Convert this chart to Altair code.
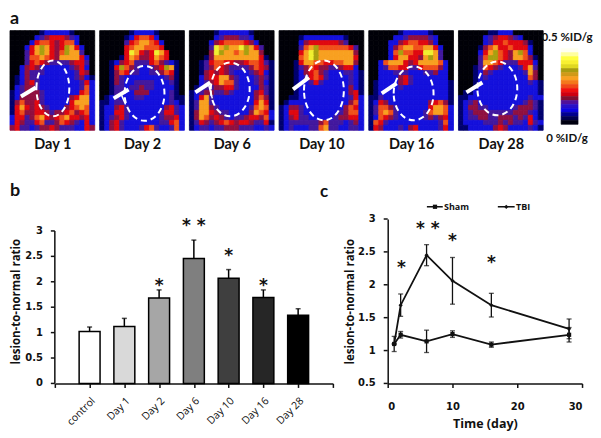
import altair as alt
import pandas as pd

# ---------- panel a: activity maps, one digit per cell (level index) ----------
day1 = ["00000012222210000","00000234555432000","00002566545662000","00025787545875200","00035787546877300",
        "00036676547777520","00035654333345530","00245432222234520","00243332222223540","01243322222223421",
        "01245322222222352","02344322222222362","12344432222222562","12444432222245772","14644532222257772",
        "15754543222456762","15644554344564562","25534675456755452","25433563346543252","45332344543332254"]
day2 = ["00000012222100000","00000125665200000","00000356776520000","00000567766650000","00000597545975000",
        "00001576445765000","00124563335643210","00158643223458710","00146533223346510","00143222222223410",
        "00143223333222310","00133233433222210","00133224442222310","01232223322222311","11233222222222321",
        "12245322222224532","12255322222235532","12345322222234452","12453222222233562","12453222356322362"]
day6 = ["00000122222210000","00000234443320000","00002456666542000","00003978779875300","00004987767877400",
        "00014777777777510","00135665544566531","00134654333346541","00145454322234521","00245577432223431",
        "00234576632223421","01233445532222431","12344334322224531","12573222222224641","13773222222225751",
        "13774322222236761","14775433222247652","14764543233455462","13543456545543351","12332334443332232"]
day10 = ["00000000000000000","00001222222221000","00002455555543000","00003678666666530","00005798777777740",
         "00006798777777750","00015776655667740","00013465443345520","00012456432223321","00012356532222321",
         "00012235322222321","00012222222222421","00012222222222451","00112222222222352","01222222222222462",
         "12443222222224652","12553222222234662","12453322222344552","12333333463332342","12322233673322332"]
day16 = ["00000012222210000","00000223444432000","00002245665542000","00002467766775200","00002686655997300",
         "00002577554787300","00267775457777620","00236655335666420","00222333222334220","00222245322222220",
         "01222245322222221","01222232222222221","01222222222222221","11322222222222221","12542222222245641",
         "13664322222257762","13676322222367762","12654322222343452","16532222222222362","15422232452222352"]
day28 = ["00000011222000000","00000234554320000","00000235565554100","00001467556555200","00002578654786200",
         "00003688654776410","00003776533355520","00013654322235730","00012432222223740","00012322222222640",
         "00012222222222321","00012222222222221","01122222222222221","11222222222222322","12342222222223431",
         "12443322222344431","12344433333444321","12334433444343521","12222333434332532","11222224542222321"]
panel_rows = [day1, day2, day6, day10, day16, day28]
panel_names = ["Day 1", "Day 2", "Day 6", "Day 10", "Day 16", "Day 28"]
levels = list("0123456789")
level_colors = ["#000008", "#00006e", "#1410dc", "#42189e", "#901040",
                "#e00810", "#f0501a", "#f8a020", "#a8a010", "#f0f030"]
ring_cx = [43, 45, 41, 45, 45, 39]
ring_cy = [58, 63, 59, 60, 63, 58]
ring_rx = [16.5, 20, 19.5, 20, 20, 20]
ring_ry = [28, 27.5, 27, 30, 27, 27]
arrow_tail = [(11, 66), (14, 68), (6, 62), (14, 59), (13, 63), (8, 62)]
arrow_head = [(26, 57), (29, 59), (21, 52), (30, 47), (28, 53), (24, 52)]
barbs = [None, ((22, 65), (26, 74)), ((19, 53), (23, 68)), None, None, None]
scale_colors = ["#fffff0", "#ffffa0", "#ffff40", "#f8f030", "#e0d820", "#a89c10", "#d09a18", "#f8a020",
                "#f4781c", "#f04818", "#f01010", "#d00010", "#801030", "#50109a", "#2810c8", "#0c04e0",
                "#000090", "#000050", "#000010"]

# ---------- panel b ----------
bar_cats = ["control", "Day 1", "Day 2", "Day 6", "Day 10", "Day 16", "Day 28"]
bar_vals = [1.02, 1.12, 1.68, 2.46, 2.07, 1.69, 1.34]
bar_tops = [1.11, 1.28, 1.84, 2.82, 2.24, 1.84, 1.47]
bar_cols = ["#ffffff", "#d9d9d9", "#a6a6a6", "#7f7f7f", "#3f3f3f", "#262626", "#000000"]
bar_star_cats = ["Day 2", "Day 6", "Day 10", "Day 16"]
bar_star_txt = ["*", "* *", "*", "*"]
bar_star_y = [2.0, 3.18, 2.59, 2.0]
b_y_ticks = [0, 0.5, 1, 1.5, 2, 2.5, 3]
b_y_labels = ["0", "0.5", "1", "1.5", "2", "2.5", "3"]

# ---------- panel c ----------
days = [1, 2, 6, 10, 16, 28]
sham = [1.10, 1.24, 1.14, 1.25, 1.09, 1.24]
sham_err = [0.115, 0.05, 0.17, 0.05, 0.04, 0.11]
tbi = [1.10, 1.69, 2.45, 2.06, 1.69, 1.33]
tbi_err = [0.0, 0.17, 0.16, 0.355, 0.18, 0.15]
line_star_x = [2.1, 6.2, 10, 16]
line_star_txt = ["*", "* *", "*", "*"]
line_star_y = [2.32, 2.91, 2.73, 2.39]
c_y_ticks = [0.5, 1, 1.5, 2, 2.5, 3]
c_y_labels = ["0.5", "1", "1.5", "2", "2.5", "3"]

INK = "#111111"
HEAD = "Lato"
AXF = "Open Sans"

PX = alt.Scale(domain=[0, 85], nice=False, zero=False)
PY = alt.Scale(domain=[0, 100], reverse=True, nice=False, zero=False)


def image_panel(i):
    cells = [{"x": c * 5, "x2": (c + 1) * 5, "y": r * 5, "y2": (r + 1) * 5, "v": ch}
             for r, row in enumerate(panel_rows[i]) for c, ch in enumerate(row[:17])]
    xaxis = alt.Axis(labels=False, ticks=False, domain=False, grid=False, title=panel_names[i],
                     titleFont=HEAD, titleFontSize=14.5, titleFontWeight="bold", titleColor=INK, titlePadding=7)
    level_scale = alt.Scale(domain=levels, range=level_colors)
    base = alt.Chart(pd.DataFrame(cells)).mark_rect(strokeWidth=0.8).encode(
        x=alt.X("x:Q", scale=PX, axis=xaxis), x2="x2:Q",
        y=alt.Y("y:Q", scale=PY, axis=None), y2="y2:Q",
        color=alt.Color("v:O", scale=level_scale, legend=None),
        stroke=alt.Stroke("v:O", scale=level_scale, legend=None),
    )
    rx, ry = ring_rx[i], ring_ry[i]
    path = f"M{-rx},0A{rx},{ry},0,1,1,{rx},0A{rx},{ry},0,1,1,{-rx},0Z"
    ring = alt.Chart(pd.DataFrame({"x": [ring_cx[i]], "y": [ring_cy[i]]})).mark_point(
        shape=path, size=4, filled=False, stroke="white", strokeWidth=2, strokeDash=[6, 4], opacity=1
    ).encode(x=alt.X("x:Q", scale=PX), y=alt.Y("y:Q", scale=PY))
    segs = [{"x": arrow_tail[i][0], "y": arrow_tail[i][1], "x2": arrow_head[i][0], "y2": arrow_head[i][1], "w": 4}]
    if barbs[i]:
        segs.append({"x": barbs[i][0][0], "y": barbs[i][0][1], "x2": barbs[i][1][0], "y2": barbs[i][1][1], "w": 1.5})
    arrow = alt.Chart(pd.DataFrame(segs)).mark_rule(color="white").encode(
        x=alt.X("x:Q", scale=PX), y=alt.Y("y:Q", scale=PY), x2="x2:Q", y2="y2:Q",
        strokeWidth=alt.StrokeWidth("w:Q", scale=None, legend=None),
    )
    chart = alt.layer(base, ring, arrow).properties(width=85, height=100)
    if i == 0:
        chart = chart.properties(title=alt.TitleParams("a", anchor="start", frame="group", font=HEAD, fontSize=18,
                                                      fontWeight="bold", color=INK, offset=2))
    return chart


def colorbar_panel():
    sx = alt.Scale(domain=[0, 42], nice=False, zero=False)
    cells = pd.DataFrame([{"x": 13, "x2": 30, "y": 18 + 4 * k, "y2": 22 + 4 * k, "c": col}
                          for k, col in enumerate(scale_colors)])
    bar = alt.Chart(cells).mark_rect(strokeWidth=0.6).encode(
        x=alt.X("x:Q", scale=sx, axis=None), x2="x2:Q",
        y=alt.Y("y:Q", scale=PY, axis=None), y2="y2:Q",
        color=alt.Color("c:N", scale=None),
        stroke=alt.Stroke("c:N", scale=None),
    )
    txt = alt.Chart(pd.DataFrame({"x": [19, 19], "y": [7, 109], "t": ["0.5 %ID/g", "0 %ID/g"]})).mark_text(
        font=HEAD, fontSize=11.5, fontWeight="bold", color=INK
    ).encode(x=alt.X("x:Q", scale=sx), y=alt.Y("y:Q", scale=PY), text="t:N")
    return alt.layer(bar, txt).properties(width=42, height=100)


top = alt.hconcat(*[image_panel(i) for i in range(6)], colorbar_panel(), spacing=5, bounds="flush")


def y_scale_marks(ticks, labels, scale, offset):
    tdf = pd.DataFrame({"y": ticks, "t": labels})
    tk = alt.Chart(tdf).mark_rule(color=INK, strokeWidth=1.5).encode(
        x=alt.value(-4), x2=alt.value(0), y=alt.Y("y:Q", scale=scale))
    tx = alt.Chart(tdf).mark_text(font="DejaVu Sans", fontSize=10, fontWeight="bold", color=INK, align="right",
                                  baseline="middle").encode(x=alt.value(offset), y=alt.Y("y:Q", scale=scale), text="t:N")
    return tk, tx


# ---------- bar chart ----------
x_dom = [" "] + bar_cats + ["  "]
BX = alt.Scale(type="point", domain=x_dom, padding=0)
BY = alt.Scale(domain=[0, 3.235], nice=False, zero=False)
bdf = pd.DataFrame({"cat": bar_cats, "val": bar_vals, "top": bar_tops, "col": bar_cols})
b_xaxis = alt.Axis(title=None, labelAngle=315, labelFont=AXF, labelFontSize=10.5, labelColor=INK, labelPadding=8,
                   domainColor=INK, domainWidth=1.5, tickColor=INK, tickWidth=1.5, tickSize=4, grid=False,
                   labelOverlap=False)
b_yaxis = alt.Axis(title="lesion-to-normal ratio", domain=False, grid=False, labels=False, ticks=False,
                   titleFont=AXF, titleFontSize=11.5, titleFontWeight="bold", titleColor=INK, titlePadding=33)
bars = alt.Chart(bdf).mark_bar(size=21, stroke="#000000", strokeWidth=1.5).encode(
    x=alt.X("cat:N", scale=BX, axis=b_xaxis, sort=x_dom),
    y=alt.Y("val:Q", scale=BY, axis=b_yaxis),
    fill=alt.Fill("col:N", scale=None),
)
whisk = alt.Chart(bdf).mark_rule(color="#000000", strokeWidth=1.5).encode(
    x=alt.X("cat:N", scale=BX, sort=x_dom), y=alt.Y("val:Q", scale=BY), y2="top:Q")
caps = alt.Chart(bdf).mark_tick(color="#000000", thickness=1.5, size=5, orient="horizontal").encode(
    x=alt.X("cat:N", scale=BX, sort=x_dom), y=alt.Y("top:Q", scale=BY))
b_axis_line = alt.Chart(pd.DataFrame({"a": [0], "b": [3]})).mark_rule(color=INK, strokeWidth=1.5).encode(
    x=alt.value(0), y=alt.Y("a:Q", scale=BY), y2="b:Q")
b_stars = alt.Chart(pd.DataFrame({"cat": bar_star_cats, "t": bar_star_txt, "y": bar_star_y})).mark_text(
    font="DejaVu Sans", fontSize=17, fontWeight="bold", color=INK, dy=4
).encode(x=alt.X("cat:N", scale=BX, sort=x_dom), y=alt.Y("y:Q", scale=BY), text="t:N")
b_tk, b_tx = y_scale_marks(b_y_ticks, b_y_labels, BY, -12)
bchart = alt.layer(bars, whisk, caps, b_axis_line, b_tk, b_tx, b_stars).properties(
    width=279, height=165,
    title=alt.TitleParams("b", anchor="start", frame="group", font=HEAD, fontSize=18, fontWeight="bold", color=INK,
                          dx=-45, offset=17))

# ---------- line chart ----------
LX = alt.Scale(domain=[0, 30], nice=False, zero=True)
LY = alt.Scale(domain=[0.5, 3], nice=False, zero=False)
ldf = pd.DataFrame({"day": days * 2, "val": sham + tbi, "err": sham_err + tbi_err,
                    "s": ["Sham"] * 6 + ["TBI"] * 6})
ldf["lo"] = ldf.val - ldf.err
ldf["hi"] = ldf.val + ldf.err
c_xaxis = alt.Axis(title="Time (day)", values=[0, 10, 20, 30], grid=False, domainColor=INK, domainWidth=1.5,
                   tickColor=INK, tickWidth=1.5, tickSize=4, labelFont="DejaVu Sans", labelFontSize=10,
                   labelFontWeight="bold", labelColor=INK, labelPadding=14, titleFont=AXF, titleFontSize=12.5,
                   titleFontWeight="bold", titleColor=INK, titlePadding=6)
c_yaxis = alt.Axis(title="lesion-to-normal ratio", grid=False, domainColor=INK, domainWidth=1.5, labels=False,
                   ticks=False, titleFont=AXF, titleFontSize=11.5, titleFontWeight="bold", titleColor=INK,
                   titlePadding=32)
lines = alt.Chart(ldf).mark_line(color=INK, strokeWidth=1.8).encode(
    x=alt.X("day:Q", scale=LX, axis=c_xaxis), y=alt.Y("val:Q", scale=LY, axis=c_yaxis), detail="s:N")
pts = alt.Chart(ldf).mark_point(filled=True, color=INK, size=18, opacity=1).encode(
    x=alt.X("day:Q", scale=LX), y=alt.Y("val:Q", scale=LY),
    shape=alt.Shape("s:N", scale=alt.Scale(domain=["Sham", "TBI"], range=["square", "diamond"]), legend=None))
ebars = alt.Chart(ldf).mark_rule(color=INK, strokeWidth=1.3).encode(
    x=alt.X("day:Q", scale=LX), y=alt.Y("lo:Q", scale=LY), y2="hi:Q")
capl = alt.Chart(ldf).mark_tick(color=INK, thickness=1.3, size=5, orient="horizontal").encode(
    x=alt.X("day:Q", scale=LX), y=alt.Y("lo:Q", scale=LY))
caph = alt.Chart(ldf).mark_tick(color=INK, thickness=1.3, size=5, orient="horizontal").encode(
    x=alt.X("day:Q", scale=LX), y=alt.Y("hi:Q", scale=LY))
c_stars = alt.Chart(pd.DataFrame({"x": line_star_x, "t": line_star_txt, "y": line_star_y})).mark_text(
    font="DejaVu Sans", fontSize=17, fontWeight="bold", color=INK, dy=4
).encode(x=alt.X("x:Q", scale=LX), y=alt.Y("y:Q", scale=LY), text="t:N")
c_tk, c_tx = y_scale_marks(c_y_ticks, c_y_labels, LY, -12)
# key
key_y = 3.186
key_lines = alt.Chart(pd.DataFrame({"a": [6.05, 17.0], "b": [8.5, 19.6], "y": [key_y, key_y]})).mark_rule(
    color=INK, strokeWidth=1.5).encode(x=alt.X("a:Q", scale=LX), x2="b:Q", y=alt.Y("y:Q", scale=LY))
key_pts = alt.Chart(pd.DataFrame({"x": [7.3, 18.3], "y": [key_y, key_y], "s": ["Sham", "TBI"]})).mark_point(
    filled=True, color=INK, size=18, opacity=1).encode(
    x=alt.X("x:Q", scale=LX), y=alt.Y("y:Q", scale=LY),
    shape=alt.Shape("s:N", scale=alt.Scale(domain=["Sham", "TBI"], range=["square", "diamond"]), legend=None))
key_txt = alt.Chart(pd.DataFrame({"x": [8.7, 19.8], "y": [key_y, key_y], "t": ["Sham", "TBI"]})).mark_text(
    font=AXF, fontSize=9, fontWeight="bold", color=INK, align="left").encode(
    x=alt.X("x:Q", scale=LX), y=alt.Y("y:Q", scale=LY), text="t:N")
cchart = alt.layer(lines, ebars, capl, caph, pts, c_tk, c_tx, c_stars, key_lines, key_pts, key_txt).properties(
    width=195, height=165,
    title=alt.TitleParams("c", anchor="start", frame="group", font=HEAD, fontSize=17, fontWeight="bold", color=INK,
                          dx=-68, offset=2))

# empty spacer that shifts panel b's plot area right of panel a's left edge
spacer = alt.Chart(pd.DataFrame({"x": [0]})).mark_point(opacity=0).encode(
    x=alt.X("x:Q", axis=None), y=alt.Y("x:Q", axis=None)).properties(width=45, height=165)

bc_row = alt.hconcat(bchart, cchart, spacing=55, bounds="flush").resolve_scale(shape="independent")
bottom = alt.hconcat(spacer, bc_row, spacing=0, bounds="flush").resolve_scale(shape="independent")

chart = alt.vconcat(top, bottom, spacing=30).resolve_scale(
    color="independent", stroke="independent", shape="independent").properties(
    padding={"left": 1, "top": 1, "right": 0, "bottom": 0}, background="white"
).configure_view(stroke=None)

chart.save("out.html", embed_options={"renderer": "svg", "actions": False})
